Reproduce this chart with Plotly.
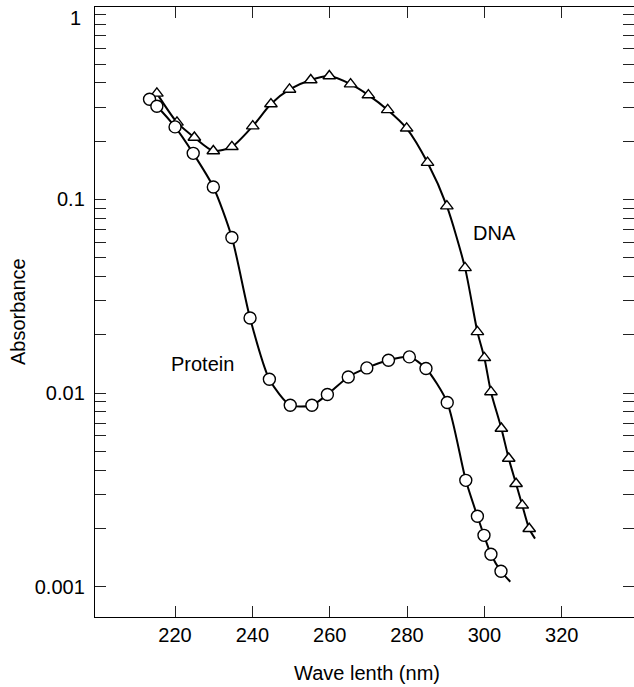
import math
import plotly.graph_objects as go

# ---- data ----
dna_nm = [215.3, 220.5, 225.0, 229.9, 234.7, 240.1, 244.8, 249.6, 255.1, 259.9, 265.4, 270.0,
          275.0, 279.9, 285.3, 290.3, 295.0, 298.2, 300.0, 301.7, 304.4, 306.3, 308.2, 309.8, 311.6]
dna_abs = [0.353, 0.25, 0.209, 0.178, 0.187, 0.239, 0.311, 0.370, 0.414, 0.434, 0.394, 0.346,
           0.290, 0.233, 0.155, 0.0923, 0.0443, 0.0207, 0.0152, 0.01013, 0.00656, 0.00459, 0.00340,
           0.00263, 0.00199]
dna_tail_nm = [313.1]
dna_tail_abs = [0.00177]

protein_nm = [213.4, 215.3, 220.0, 224.7, 229.9, 234.7, 239.4, 244.4, 249.8, 255.4, 259.4, 264.8,
              269.6, 275.2, 280.6, 284.9, 290.4, 295.2, 298.2, 299.9, 301.7, 304.3]
protein_abs = [0.329, 0.303, 0.237, 0.173, 0.116, 0.0636, 0.0244, 0.01178, 0.00865, 0.00865,
               0.00982, 0.0121, 0.01348, 0.01476, 0.01537, 0.01339, 0.00893, 0.00354, 0.00231,
               0.00184, 0.00147, 0.00120]
protein_tail_nm = [306.7]
protein_tail_abs = [0.00106]

x_ticks = [220, 240, 260, 280, 300, 320]
y_major = [0.001, 0.01, 0.1]
y_major_labels = ["0.001", "0.01", "0.1"]
top_label = "1"

series_labels = ["DNA", "Protein"]
label_pos = {"DNA": (302.7, 0.0667), "Protein": (227.2, 0.0141)}

FONT = "Liberation Sans, Arial, Helvetica, sans-serif"

# tick values: majors plus 2..9 minors in each decade
tickvals, ticktext = [], []
for m, lab in zip(y_major, y_major_labels):
    for k in range(1, 10):
        tickvals.append(round(m * k, 6))
        ticktext.append(lab if k == 1 else "")
tickvals.append(1.0)
ticktext.append("")

fig = go.Figure()

line_style = dict(color="black", width=2, shape="spline", smoothing=0.7)

fig.add_trace(go.Scatter(x=dna_nm + dna_tail_nm, y=dna_abs + dna_tail_abs, mode="lines",
                         line=line_style, hoverinfo="skip", showlegend=False))
fig.add_trace(go.Scatter(x=protein_nm + protein_tail_nm, y=protein_abs + protein_tail_abs,
                         mode="lines", line=line_style, hoverinfo="skip", showlegend=False))
fig.add_trace(go.Scatter(x=dna_nm, y=dna_abs, mode="markers", name="DNA",
                         marker=dict(symbol="triangle-up", size=11, color="white",
                                     line=dict(color="black", width=1.4)),
                         showlegend=False))
fig.add_trace(go.Scatter(x=protein_nm, y=protein_abs, mode="markers", name="Protein",
                         marker=dict(symbol="circle", size=12, color="white",
                                     line=dict(color="black", width=1.4)),
                         showlegend=False))

for name in series_labels:
    px, py = label_pos[name]
    fig.add_annotation(x=px, y=math.log10(py), xref="x", yref="y", text=name,
                       showarrow=False, font=dict(family=FONT, size=20, color="black"))

# "1" label sits a little below the top edge in the reference
fig.add_annotation(x=(82.7 - 95) / 539, y=(617 - 18.3) / 610, xref="paper", yref="paper",
                   text=top_label, showarrow=False, xanchor="right", yanchor="middle",
                   font=dict(family=FONT, size=20, color="black"))

# axis titles
fig.add_annotation(x=(18 - 95) / 539, y=0.5, xref="paper", yref="paper", text="Absorbance",
                   textangle=-90, showarrow=False, xanchor="center", yanchor="middle",
                   font=dict(family=FONT, size=20, color="black"))
fig.add_annotation(x=(367 - 95) / 539, y=(617 - 673) / 610, xref="paper", yref="paper",
                   text="Wave lenth (nm)", showarrow=False, xanchor="center", yanchor="middle",
                   font=dict(family=FONT, size=20, color="black"))

axis_common = dict(showline=True, linecolor="black", linewidth=1.4, mirror="allticks",
                   ticks="inside", ticklen=11, tickwidth=1.3, tickcolor="#222",
                   showgrid=False, zeroline=False, automargin=False,
                   tickfont=dict(family=FONT, size=20, color="black"))

fig.update_xaxes(range=[199.3, 338.7], tickmode="array", tickvals=x_ticks,
                 ticktext=[str(v) for v in x_ticks], **axis_common)
fig.update_yaxes(type="log", range=[-3.157, -0.006], tickmode="array", tickvals=tickvals,
                 ticktext=ticktext, ticklabelstandoff=5, **axis_common)

fig.update_layout(width=634, height=687, margin=dict(l=95, r=0, t=7, b=70),
                  plot_bgcolor="white", paper_bgcolor="white",
                  font=dict(family=FONT, size=20, color="black"))

fig.write_html("out.html", config={"displayModeBar": False},
               post_script="document.body.style.margin='0';document.body.style.overflow='hidden';")
